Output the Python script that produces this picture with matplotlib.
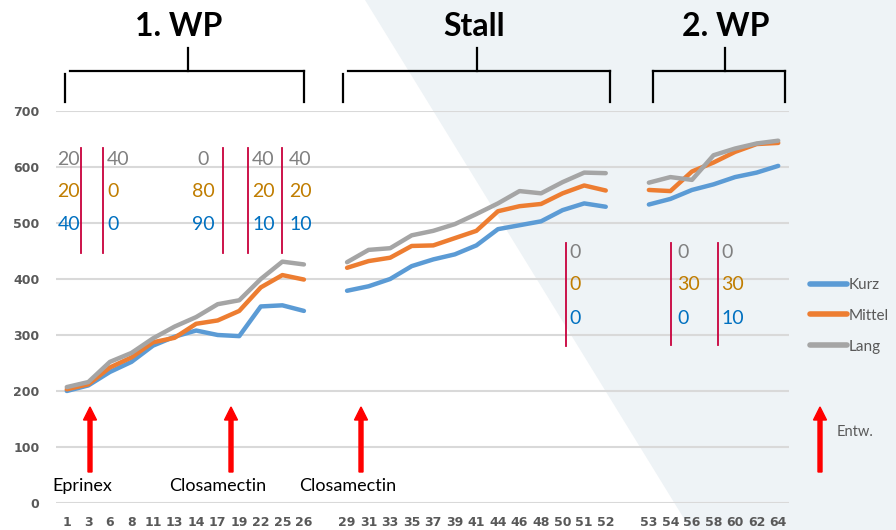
import matplotlib
matplotlib.use("Agg")
import matplotlib.pyplot as plt
from matplotlib.patches import Polygon, FancyArrow
from matplotlib.lines import Line2D
import numpy as np

nan = np.nan

# x categories (blank slots separate the three periods)
categories = ['1', '3', '6', '8', '11', '13', '14', '17', '19', '22', '25', '26', '',
              '29', '31', '33', '35', '37', '39', '41', '44', '46', '48', '50', '51', '52', '',
              '53', '54', '56', '58', '60', '62', '64']

kurz = [200, 210, 234, 252, 281, 297, 308, 300, 298, 351, 353, 343, nan,
        379, 387, 400, 423, 435, 444, 460, 489, 496, 503, 523, 535, 529, nan,
        533, 543, 559, 569, 582, 590, 602]
mittel = [203, 212, 242, 260, 287, 295, 320, 326, 343, 385, 407, 399, nan,
          420, 432, 438, 459, 460, 473, 486, 521, 530, 534, 553, 567, 558, nan,
          559, 557, 592, 608, 627, 641, 643]
lang = [207, 216, 252, 268, 294, 315, 332, 355, 362, 400, 431, 426, nan,
        430, 452, 455, 478, 486, 498, 516, 535, 557, 553, 573, 590, 589, nan,
        572, 582, 577, 621, 633, 642, 647]

series_names = ['Kurz', 'Mittel', 'Lang']
series_colors = ['#5b9bd5', '#ed7d31', '#a5a5a5']

period_titles = ['1. WP', 'Stall', '2. WP']
treatments = ['Eprinex', 'Closamectin', 'Closamectin']

# annotation columns: (gray, orange, blue) values
notes_wp1 = [('20', '20', '40'), ('40', '0', '0'), ('0', '80', '90'),
             ('40', '20', '10'), ('40', '20', '10')]
notes_stall = [('0', '0', '0')]
notes_wp2 = [('0', '30', '0'), ('0', '30', '10')]

W, H = 896, 530
fig = plt.figure(figsize=(W / 100, H / 100), dpi=100)
fig.patch.set_facecolor('white')


def fx(x):
    return x / W


def fy(y):
    return 1 - y / H


# light diagonal background
fig.patches.append(Polygon([(fx(365), fy(0)), (fx(W), fy(0)), (fx(W), fy(H)), (fx(691), fy(H))],
                           closed=True, transform=fig.transFigure, facecolor='#eef3f6',
                           edgecolor='none', zorder=-10))

ax = fig.add_axes([fx(56), fy(503), fx(789) - fx(56), fy(111) - fy(503)])
ax.set_facecolor('none')

x = np.arange(len(categories))
for vals, name, col in zip([kurz, mittel, lang], series_names, series_colors):
    ax.plot(x, vals, color=col, lw=3.2, label=name, solid_capstyle='round', zorder=3)

ax.set_xlim(-0.5, len(categories) - 0.5)
ax.set_ylim(0, 700)
ax.set_yticks(range(0, 701, 100))
ax.set_xticks(x)
ax.set_xticklabels(categories)
ax.grid(axis='y', color='#d9d9d9', lw=1.5, zorder=1)
ax.set_axisbelow(True)
for s in ax.spines.values():
    s.set_visible(False)
ax.tick_params(axis='both', length=0, labelcolor='#595959', labelsize=9)
ax.tick_params(axis='x', pad=9)
ax.tick_params(axis='y', pad=12)
for lbl in ax.get_xticklabels() + ax.get_yticklabels():
    lbl.set_fontweight('bold')

leg = ax.legend(loc='upper left', bbox_to_anchor=(fx(810), fy(278)), bbox_transform=fig.transFigure,
                frameon=False, handlelength=2.4, handletextpad=0.15, labelspacing=1.1,
                borderaxespad=0, borderpad=0,
                prop={'family': 'Lato', 'size': 11}, labelcolor='#595959')
for h in leg.get_lines():
    h.set_linewidth(4)

# brackets and period titles
def bracket(x0, x1, xm, left_gap=False):
    k = dict(color='black', lw=1.6, transform=fig.transFigure)
    fig.add_artist(Line2D([fx(x0 + (5 if left_gap else 0)), fx(x1)], [fy(71), fy(71)], **k))
    fig.add_artist(Line2D([fx(x0), fx(x0)], [fy(74 if left_gap else 71), fy(102)], **k))
    fig.add_artist(Line2D([fx(x1), fx(x1)], [fy(71), fy(102)], **k))
    fig.add_artist(Line2D([fx(xm), fx(xm)], [fy(48), fy(71)], **k))


bracket(65, 304, 188, left_gap=True)
bracket(343, 610, 477, left_gap=True)
bracket(653, 785, 725)
for t, cx in zip(period_titles, [179, 474, 726]):
    fig.text(fx(cx), fy(27), t, ha='center', va='center', fontsize=23, fontweight='bold',
             family='Lato', color='black')

note_colors = ['#808080', '#c07d00', '#0070c0']
red_line = '#c8003c'


def vline(xp, y0, y1):
    fig.add_artist(Line2D([fx(xp), fx(xp)], [fy(y0), fy(y1)], color=red_line, lw=1.3,
                          transform=fig.transFigure))


def column(xp, ys, vals, ha='left'):
    for v, yp, c in zip(vals, ys, note_colors):
        fig.text(fx(xp), fy(yp), v, ha=ha, va='center', fontsize=14, color=c, family='Lato')


ys1 = [160, 192, 224]
for xp in [81, 103, 223, 248, 282]:
    vline(xp, 148, 253)
column(80, ys1, notes_wp1[0], ha='right')
column(107, ys1, notes_wp1[1])
column(203, ys1, notes_wp1[2], ha='center')
column(252, ys1, notes_wp1[3])
column(289, ys1, notes_wp1[4])

ys2 = [252, 285, 318]
vline(566, 243, 346)
column(569, ys2, notes_stall[0])
vline(671, 243, 345)
vline(718, 243, 345)
column(677, ys2, notes_wp2[0])
column(721, ys2, notes_wp2[1])

# treatment arrows
for xp in [90, 231, 361, 820]:
    fig.patches.append(FancyArrow(fx(xp), fy(472), 0, fy(407) - fy(472), width=fx(4),
                                  head_width=fx(13), head_length=(fy(407) - fy(420)),
                                  length_includes_head=True, color='#ff0000',
                                  transform=fig.transFigure, zorder=5))
for t, cx in zip(treatments, [82, 218, 348]):
    fig.text(fx(cx), fy(486), t, ha='center', va='center', fontsize=13, family='Lato',
             color='black')
fig.text(fx(837), fy(432), 'Entw.', ha='left', va='center', fontsize=10.5, family='Lato',
         color='#595959')

fig.savefig('out.png', dpi=100)
